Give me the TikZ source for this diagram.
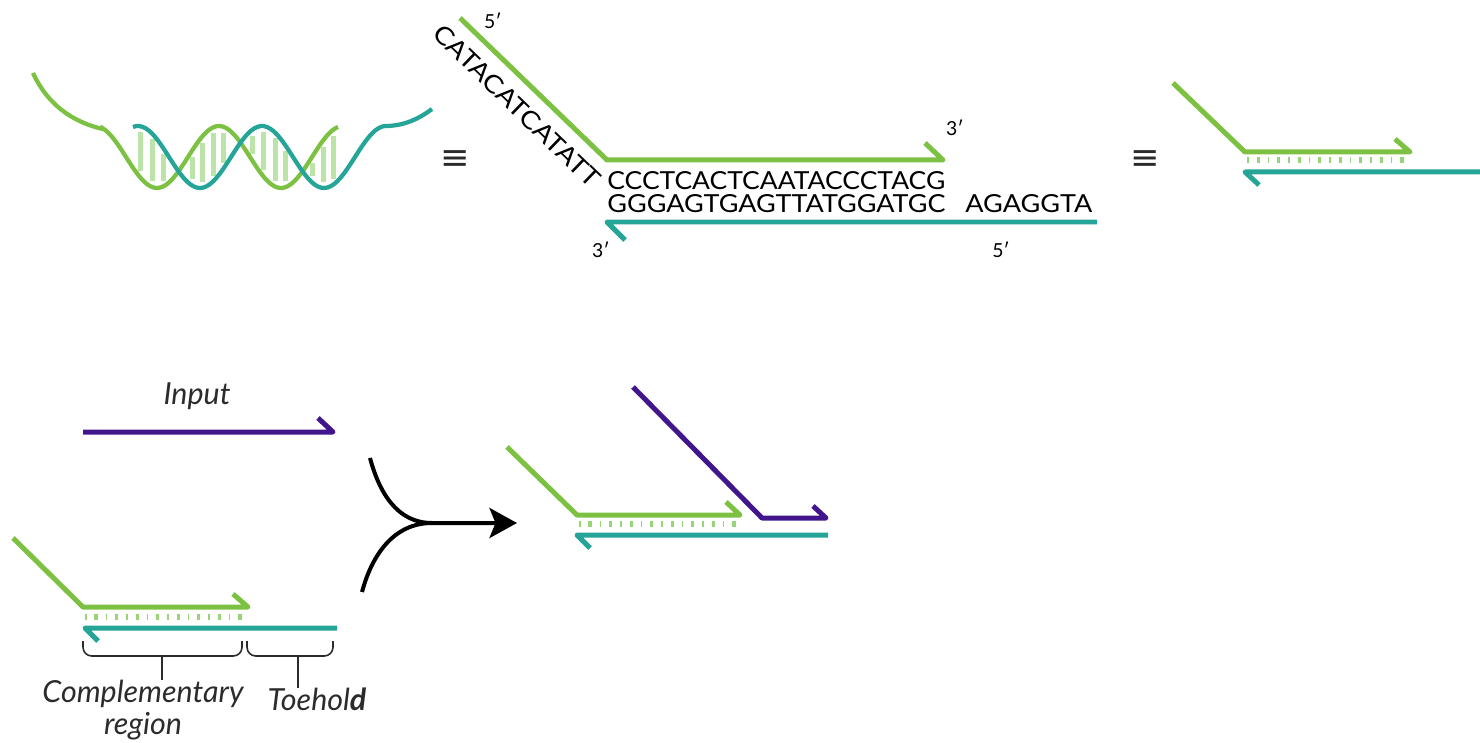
\documentclass[tikz,border=0pt]{standalone}
\usepackage{fontspec}
\setmainfont{Lato}
\newfontfamily\symfont{DejaVu Sans}
\usetikzlibrary{arrows.meta}

\definecolor{strandgreen}{HTML}{7CC142}
\definecolor{strandteal}{HTML}{24A598}
\definecolor{strandpurple}{HTML}{41168C}
\definecolor{pairgreen}{HTML}{9AD47A}
\definecolor{helixbar}{HTML}{BCE3A8}
\definecolor{inkgray}{HTML}{2B2B2B}

\newcommand{\seqbox}[2]{\resizebox{#1}{0.36cm}{#2}}

\tikzset{
  strand/.style={line width=0.1cm, line join=round},
  gstrand/.style={strand, draw=strandgreen},
  tstrand/.style={strand, draw=strandteal},
  pstrand/.style={strand, draw=strandpurple},
  helix/.style={line width=0.085cm},
  rung/.style={draw=helixbar, line width=0.1cm},
  pairs/.style={draw=pairgreen, line width=0.12cm, dash pattern=on 0.9pt off 4.5pt on 1.8pt off 4.5pt},
  seq/.style={inner sep=0pt, text=black},
  prime/.style={inner sep=0pt, font=\fontsize{11}{13}\selectfont},
  same/.style={inner sep=0pt, text=inkgray, font=\symfont\fontsize{20}{22}\selectfont},
  label/.style={inner sep=0pt, text=inkgray, font=\fontsize{17.3}{21}\selectfont\itshape, align=center},
  bracket/.style={draw=inkgray, line width=0.9pt, rounded corners=5pt},
}

\begin{document}
\begin{tikzpicture}[x=0.02cm, y=-0.02cm]
    \useasboundingbox (0,0) rectangle (1480,743);

    % Double helix (one turn = 124 units, 360/124 = 2.9032)
    \foreach \x in {140,152,163,192,202,213,223,252,263,275,285,312,323,333} {
        \pgfmathsetmacro\ya{157+31*cos(2.9032*(\x-157))}
        \pgfmathsetmacro\yb{157+31*cos(2.9032*(\x-200))}
        \pgfmathsetmacro\ytop{min(\ya,\yb)+6}
        \pgfmathsetmacro\ybot{max(\ya,\yb)-6}
        \draw[rung] (\x,\ytop) -- (\x,\ybot);
    }
    \draw[helix, strandgreen] (33,73) .. controls (50,110) and (80,124) .. (103,129)
        -- plot[domain=103:338, samples=80, smooth] (\x,{157+31*cos(2.9032*(\x-157))});
    \draw[helix, strandteal] plot[domain=133:385, samples=80, smooth] (\x,{157+31*cos(2.9032*(\x-200))})
        .. controls (405,126) and (420,118) .. (432,109);

    \node[same] (eqa) at (455,160) {≡};
    \node[same] (eqb) at (1145,160) {≡};

    % Sequence view
    \coordinate (s5) at (460,18);
    \coordinate (sk) at (607,160);
    \coordinate (s3) at (943,160);
    \coordinate (b3) at (607,222);
    \coordinate (b5) at (1097,222);
    \draw[gstrand] (s5) -- (sk) -- (s3) -- ++(-18,-17);
    \draw[tstrand] (b5) -- (b3) -- ++(18,18);
    \node[seq, rotate=-44] (tail) at (517,106) {\seqbox{4.42cm}{CATACATCATATT}};
    \node[seq, anchor=north west] (topseq) at (607,171) {\seqbox{6.76cm}{CCCTCACTCAATACCCTACG}};
    \node[seq, anchor=north west] (botseq) at (607,194) {\seqbox{6.76cm}{GGGAGTGAGTTATGGATGC}};
    \node[seq, anchor=north west] (toeseq) at (965,194) {\seqbox{2.54cm}{AGAGGTA}};
    \node[prime] (p5a) at (493,21) {5′};
    \node[prime] (p3a) at (955,128) {3′};
    \node[prime] (p3b) at (601,250) {3′};
    \node[prime] (p5b) at (1001,250) {5′};

    % Short form
    \coordinate (r5) at (1173,83);
    \coordinate (rk) at (1245,152);
    \coordinate (r3) at (1410,152);
    \draw[pairs] (1247,160) -- (1411,160);
    \draw[gstrand] (r5) -- (rk) -- (r3) -- ++(-15,-13);
    \draw[tstrand] (1480,172) -- (1245,172) -- ++(14,13);

    % Input strand
    \node[label] (input) at (197,396) {Input};
    \coordinate (i5) at (83,432);
    \coordinate (i3) at (333,432);
    \draw[pstrand] (i5) -- (i3) -- ++(-15,-14);

    % Gate complex
    \coordinate (g5) at (13,538);
    \coordinate (gk) at (83,607);
    \coordinate (g3) at (248,607);
    \draw[pairs] (85,617) -- (249,617);
    \draw[gstrand] (g5) -- (gk) -- (g3) -- ++(-15,-13);
    \coordinate (c3) at (85,628);
    \coordinate (c5) at (337,628);
    \draw[tstrand] (c5) -- (c3) -- ++(13,13);

    % Region brackets
    \draw[bracket] (83,641) -- (83,656) -- (242,656) -- (242,641);
    \draw[bracket] (247,641) -- (247,656) -- (333,656) -- (333,641);
    \coordinate (cmid) at (162,656);
    \coordinate (tmid) at (298,656);
    \node[label, anchor=north] (complab) at (143,680) {Complementary\\[-3pt]region};
    \node[label, anchor=north] (toelab) at (317,688) {Toehol\textbf{d}};
    \draw[draw=inkgray, line width=0.9pt] (cmid) -- (complab.north -| cmid);
    \draw[draw=inkgray, line width=0.9pt] (tmid) -- (toelab.north -| tmid);

    % Reaction arrow
    \coordinate (au) at (370,458);
    \coordinate (al) at (362,592);
    \coordinate (am) at (432,523);
    \coordinate (at) at (517,523);
    \draw[line width=0.08cm, -{Stealth[length=0.55cm, width=0.6cm, inset=0.12cm]}] (au) to[out=-75, in=180] (am) -- (at);
    \draw[line width=0.08cm] (al) to[out=75, in=180] (am);

    % Product
    \coordinate (q5) at (507,447);
    \coordinate (qk) at (577,515);
    \coordinate (q3) at (740,515);
    \draw[pairs] (579,524) -- (741,524);
    \draw[gstrand] (q5) -- (qk) -- (q3) -- ++(-14,-13);
    \draw[tstrand] (828,535) -- (577,535) -- ++(13,13);
    \coordinate (n5) at (633,387);
    \coordinate (nk) at (762,518);
    \coordinate (n3) at (826,518);
    \draw[pstrand] (n5) -- (nk) -- (n3) -- ++(-13,-12);

\end{tikzpicture}
\end{document}
